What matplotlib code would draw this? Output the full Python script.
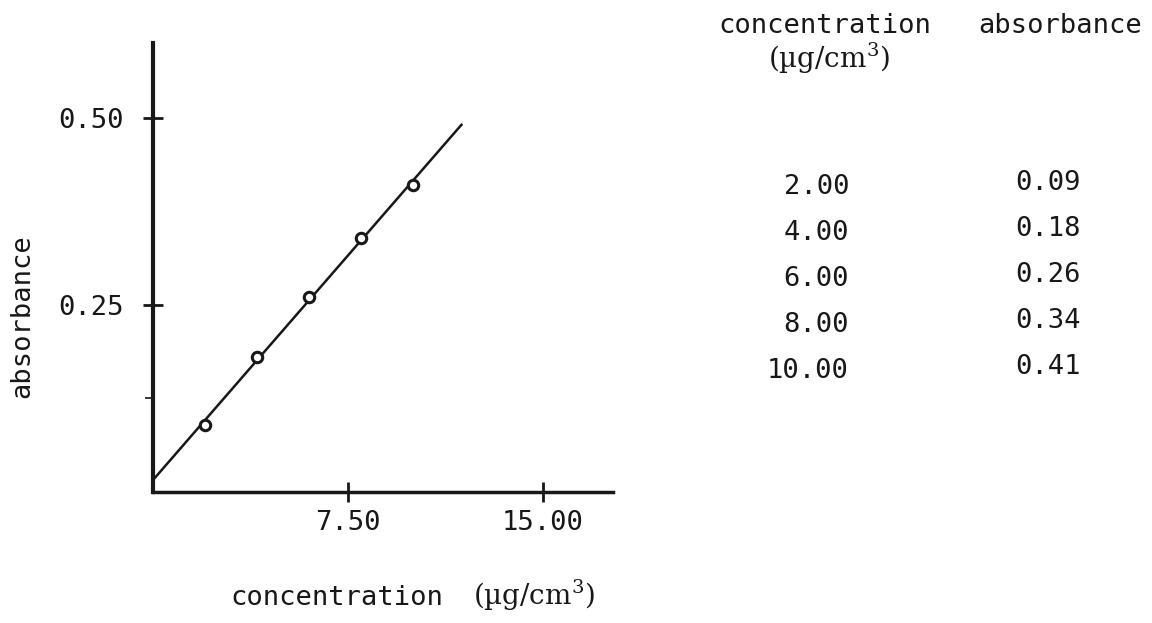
import matplotlib
matplotlib.use("Agg")
from matplotlib import pyplot as plt
import numpy as np

conc = [2.00, 4.00, 6.00, 8.00, 10.00]
absorb = [0.09, 0.18, 0.26, 0.34, 0.41]

x_ticks = [7.50, 15.00]
y_ticks = [0.25, 0.50]
y_minor = [0.125]
line_x = [0.0, 11.9]

mono = "DejaVu Sans Mono"
serif = "DejaVu Serif"
ink = "#181818"
fs = 19.5
plt.rcParams["mathtext.fontset"] = "dejavuserif"

W, H = 1152, 623
fig = plt.figure(figsize=(W / 100, H / 100), dpi=100)
fig.patch.set_facecolor("white")

def px(x, y):
    return x / W, 1 - y / H

ax = fig.add_axes([153 / W, 1 - 492 / H, 460 / W, 449 / H])
ax.set_xlim(0, 17.7)
ax.set_ylim(0, 0.60)

# regression line + measured points
k, b = np.polyfit(conc, absorb, 1)
lx = np.array(line_x)
ax.plot(lx, k * lx + b, color=ink, lw=1.8, solid_capstyle="butt")
ax.plot(conc, absorb, "o", ms=7.5, mfc="white", mec=ink, mew=2.2, zorder=3)

for s in ["top", "right"]:
    ax.spines[s].set_visible(False)
ax.spines["left"].set_linewidth(3.0)
ax.spines["bottom"].set_linewidth(2.5)
ax.spines["left"].set_color(ink)
ax.spines["bottom"].set_color(ink)

ax.set_xticks(x_ticks)
ax.set_xticklabels(["%.2f" % v for v in x_ticks])
ax.set_yticks(y_ticks)
ax.set_yticklabels(["%.2f" % v for v in y_ticks])
ax.set_yticks(y_minor, minor=True)
ax.tick_params(axis="both", which="major", direction="inout", length=14,
               width=2, color=ink, labelsize=fs, labelcolor=ink)
ax.tick_params(axis="y", which="major", pad=14)
ax.tick_params(axis="x", which="major", pad=6)
ax.tick_params(axis="y", which="minor", direction="out", length=6, width=1.2, color=ink)
for t in ax.get_xticklabels() + ax.get_yticklabels():
    t.set_fontfamily(mono)

# axis titles
fig.text(*px(22, 316), "absorbance", rotation=90, ha="center", va="center",
         family=mono, fontsize=fs, color=ink)
fig.text(*px(230, 605), "concentration", ha="left", va="baseline",
         family=mono, fontsize=fs, color=ink)
fig.text(*px(473, 605), "(µg/cm$^3$)", ha="left", va="baseline",
         family=serif, fontsize=20, color=ink)

# data table on the right
fig.text(*px(718, 33), "concentration", ha="left", va="baseline",
         family=mono, fontsize=fs, color=ink)
fig.text(*px(768, 68), "(µg/cm$^3$)", ha="left", va="baseline",
         family=serif, fontsize=20, color=ink)
fig.text(*px(978, 33), "absorbance", ha="left", va="baseline",
         family=mono, fontsize=fs, color=ink)

row_y = [194, 240, 286, 332, 378]
for c, a, yy in zip(conc, absorb, row_y):
    fig.text(*px(849, yy), "%.2f" % c, ha="right", va="baseline",
             family=mono, fontsize=fs, color=ink)
    fig.text(*px(1081, yy - 4), "%.2f" % a, ha="right", va="baseline",
             family=mono, fontsize=fs, color=ink)

fig.savefig("out.png", dpi=100)
